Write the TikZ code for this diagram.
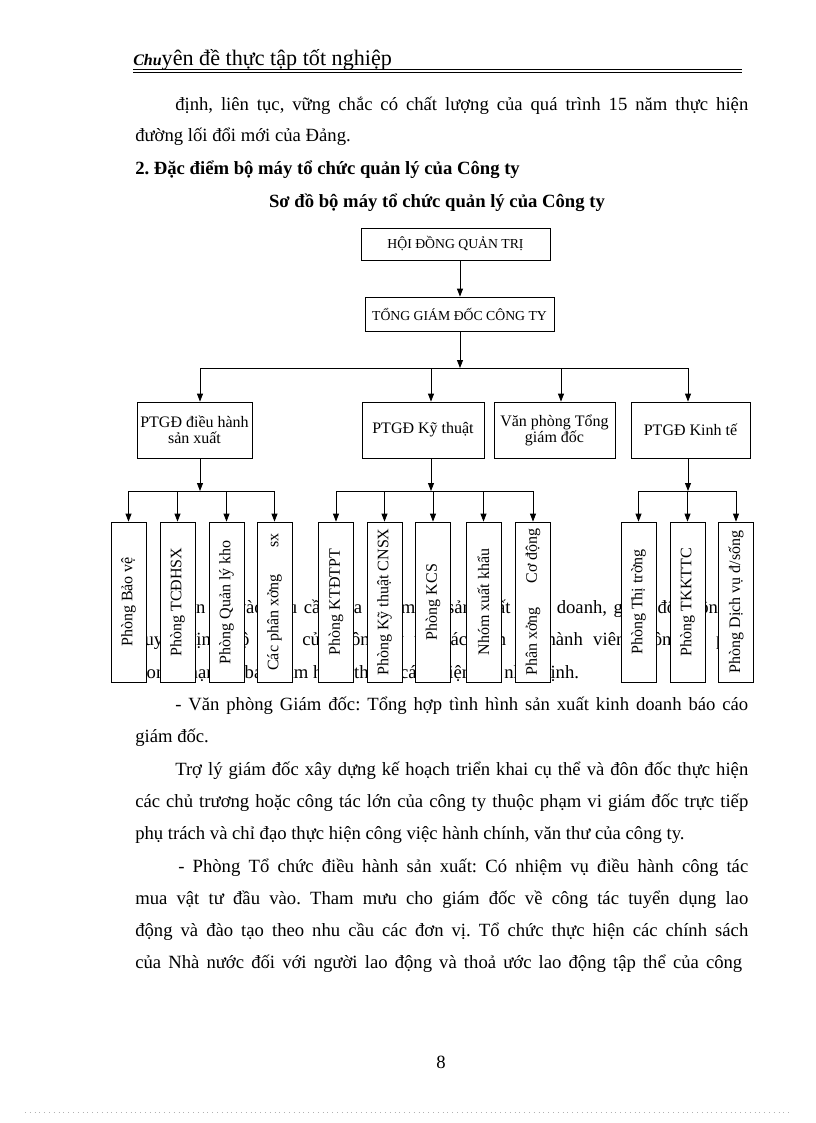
\documentclass[tikz,border=0pt]{standalone}
\usepackage{fontspec}
\setmainfont{Liberation Serif}
\usetikzlibrary{arrows.meta}
\frenchspacing
\newcommand\jline[4]{\node[body] (#1) at (#2,#3) {\makebox[\dimexpr(748pt-#2pt)*3/4\relax][s]{#4}};}
\newcommand\jlinex[5]{\node[body] (#1) at (#2,#3) {\makebox[\dimexpr(#5pt-#2pt)*3/4\relax][s]{#4}};}
\newcommand\pline[4]{\node[body] (#1) at (#2,#3) {#4};}
\begin{document}
\begin{tikzpicture}[x=0.75pt,y=-0.75pt,
  box/.style={draw, line width=0.6pt, fill=white, inner sep=0pt, align=center,
    font=\fontsize{12}{12}\selectfont},
  topbox/.style={box, minimum width=141.75pt, font=\fontsize{10.3}{12}\selectfont},
  midbox/.style={box, minimum height=42pt},
  vbox/.style={draw, line width=0.6pt, fill=white, inner sep=0pt,
    minimum width=26.25pt, minimum height=120pt},
  vtext/.style={rotate=90, inner sep=0pt, font=\fontsize{12}{12}\selectfont},
  arr/.style={-{Triangle[length=6pt,width=4.5pt]}, line width=0.6pt},
  ln/.style={line width=0.6pt},
  body/.style={anchor=base west, inner sep=0pt, font=\fontsize{14}{16}\selectfont}]
\useasboundingbox (0,0) rectangle (816,1123);
\fill[white] (0,0) rectangle (816,1123);

% header
\node[anchor=base west, inner sep=0pt] (hdr) at (133,66)
  {{\fontsize{12}{12}\selectfont\itshape\bfseries Chu}{\fontsize{16.6}{18}\selectfont yên đề thực tập tốt nghiệp}};
\coordinate (hl1) at (133,69.5);
\coordinate (hr1) at (742,69.5);
\draw[line width=1.3pt] (hl1) -- (hr1);
\draw[line width=0.5pt] ([yshift=-3*0.75pt]hl1) -- ([yshift=-3*0.75pt]hr1);

% body text top
\jline{t1}{175}{111}{định, liên tục, vững chắc có chất lượng của quá trình 15 năm thực hiện}
\pline{t2}{135}{142}{đường lối đổi mới của Đảng.}
\pline{t3}{135}{175}{\bfseries 2. Đặc điểm bộ máy tổ chức quản lý của Công ty}
\node[body, anchor=base] (title) at (437,208) {\bfseries Sơ đồ bộ máy tổ chức quản lý của Công ty};

% text hidden behind the chart
\jline{h1}{175}{613}{Căn cứ vào yêu cầu của nhiệm vụ sản xuất kinh doanh, giám đốc công ty}
\jline{h2}{135}{645}{quyết định bộ máy của Công ty và các đơn vị thành viên. Công ty phải}
\pline{h3}{135}{678}{trong phạm vi bảo đảm hoàn thành các nhiệm vụ nhất định.}

% chart: boxes
\node[topbox, minimum height=24pt] (hd) at (455.5,244) {HỘI ĐỒNG QUẢN TRỊ};
\node[topbox, minimum height=25.5pt] (tgd) at (459.5,314) {TỔNG GIÁM ĐỐC CÔNG TY};

\node[midbox, minimum width=86.25pt] (p1) at (194.5,430) {PTGĐ điều hành\\sản xuất};
\node[midbox, minimum width=91.5pt] (p2) at (423,430) {PTGĐ Kỹ thuật};
\node[midbox, minimum width=90.75pt] (p3) at (554.5,430) {Văn phòng Tổng\\giám đốc};
\node[midbox, minimum width=89.25pt] (p4) at (690.5,430) {PTGĐ Kinh tế};

\foreach \n/\x/\t in {
  b1/128.5/{Phòng Bảo vệ},
  b2/177.5/{Phòng TCĐHSX},
  b3/226.5/{Phòng Quản lý kho},
  b4/274.5/{Các phân xởng\hspace{20pt}sx},
  b5/336/{Phòng KTĐTPT},
  b6/384.5/{Phòng Kỹ thuật CNSX},
  b7/433/{Phòng KCS},
  b8/483.5/{Nhóm xuất khẩu},
  b9/533/{Phân xởng\hspace{18pt}Cơ động},
  b10/638.5/{Phòng Thị trờng},
  b11/687.5/{Phòng TKKTTC},
  b12/736/{Phòng Dịch vụ đ/sống}}{
  \node[vbox] (\n) at (\x,602) {};
  \node[vtext] (\n t) at (\n) {\t};
}

% connectors
\coordinate (bus) at (460,368);
\draw[arr] (bus |- hd.south) -- (bus |- tgd.north);
\draw[arr] (bus |- tgd.south) -- (bus);
\coordinate (a1) at (200,368);
\coordinate (a2) at (431,368);
\coordinate (a3) at (561,368);
\coordinate (a4) at (688,368);
\draw[ln] (a1) -- (a4);
\draw[arr] (a1) -- (a1 |- p1.north);
\draw[arr] (a2) -- (a2 |- p2.north);
\draw[arr] (a3) -- (a3 |- p3.north);
\draw[arr] (a4) -- (a4 |- p4.north);

\coordinate (c1) at (200,491);
\coordinate (c2) at (431,491);
\coordinate (c3) at (688,491);
\draw[arr] (c1 |- p1.south) -- (c1);
\draw[arr] (c2 |- p2.south) -- (c2);
\draw[arr] (c3 |- p4.south) -- (c3);
\draw[ln] (b1.north |- c1) -- (b4.north |- c1);
\draw[ln] (b5.north |- c2) -- (b9.north |- c2);
\draw[ln] (b10.north |- c3) -- (b12.north |- c3);
\foreach \b in {b1,b2,b3,b4}{\draw[arr] (\b.north |- c1) -- (\b.north);}
\foreach \b in {b5,b6,b7,b8,b9}{\draw[arr] (\b.north |- c2) -- (\b.north);}
\foreach \b in {b10,b11,b12}{\draw[arr] (\b.north |- c3) -- (\b.north);}

% body text bottom
\jline{l1}{175}{710}{- Văn phòng Giám đốc: Tổng hợp tình hình sản xuất kinh doanh báo cáo}
\pline{l2}{135}{742}{giám đốc.}
\jline{l3}{175}{775}{Trợ lý giám đốc xây dựng kế hoạch triển khai cụ thể và đôn đốc thực hiện}
\jline{l4}{135}{807}{các chủ trương hoặc công tác lớn của công ty thuộc phạm vi giám đốc trực tiếp}
\pline{l5}{135}{839}{phụ trách và chỉ đạo thực hiện công việc hành chính, văn thư của công ty.}
\jline{l6}{178}{872}{- Phòng Tổ chức điều hành sản xuất: Có nhiệm vụ điều hành công tác}
\jline{l7}{135}{904}{mua vật tư đầu vào. Tham mưu cho giám đốc về công tác tuyển dụng lao}
\jline{l8}{135}{936}{động và đào tạo theo nhu cầu các đơn vị. Tổ chức thực hiện các chính sách}
\jlinex{l9}{135}{968}{của Nhà nước đối với người lao động và thoả ước lao động tập thể của công}{742}

\node[body, anchor=base] (pg) at (441,1068) {8};

\coordinate (dl) at (25,1112);
\coordinate (dr) at (791,1112);
\draw[gray!60, line width=0.5pt, dash pattern=on 0.6pt off 3pt] (dl) -- (dr);
\end{tikzpicture}
\end{document}
